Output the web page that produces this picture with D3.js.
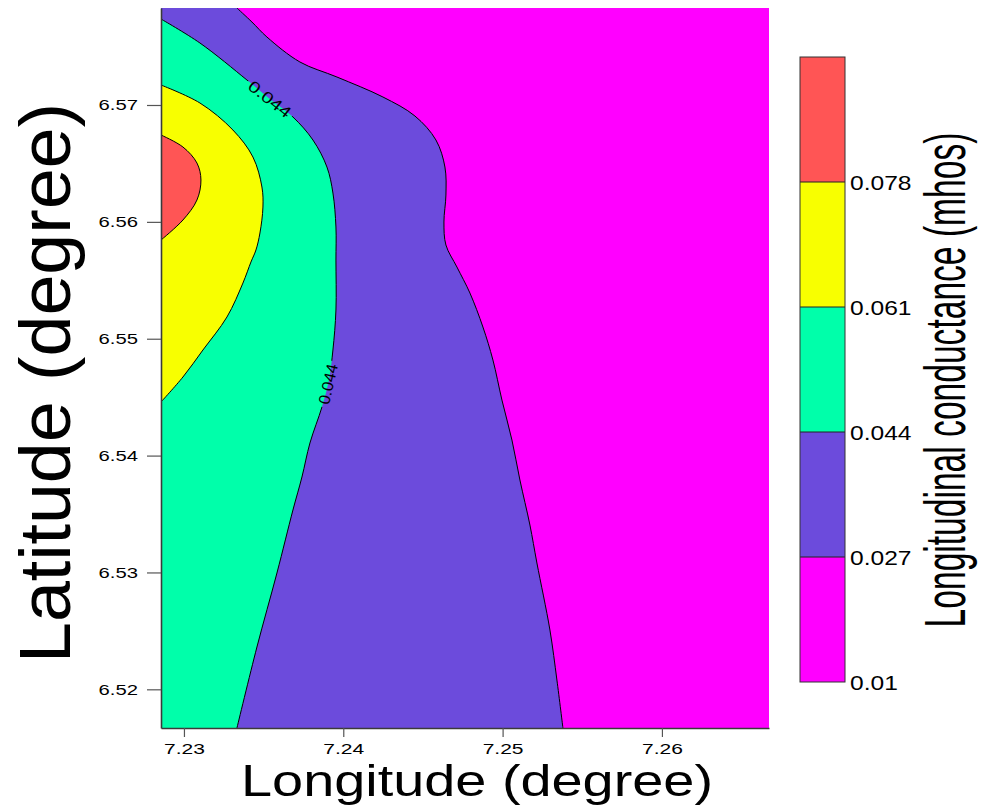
<!DOCTYPE html>
<html>
<head>
<meta charset="utf-8">
<script src="https://cdn.jsdelivr.net/npm/d3@7"></script>
<style>
  html, body { margin: 0; padding: 0; background: #ffffff; }
  svg { display: block; font-family: "Liberation Sans", Arial, Helvetica, sans-serif; }
</style>
</head>
<body>
<svg id="chart" width="982" height="807"></svg>
<script>
// ---------------- data ----------------
const lonDomain = [7.22856, 7.26672];
const latDomain = [6.51669, 6.57830];
const lonTicks = [7.23, 7.24, 7.25, 7.26];
const latTicks = [6.52, 6.53, 6.54, 6.55, 6.56, 6.57];

const levels = [0.01, 0.027, 0.044, 0.061, 0.078, 0.095];
const levelLabels = ["0.01", "0.027", "0.044", "0.061", "0.078"];
const bandColors = ["#FF00FF", "#6C4BDC", "#00FFAA", "#F8FF00", "#FF5555"];

// contour lines [lon, lat]
const contour027 = [
  [7.233326, 6.57830], [7.234268, 6.577101], [7.235209, 6.575817], [7.237280, 6.573678],
  [7.239602, 6.572395], [7.242489, 6.570683], [7.244498, 6.569057], [7.245816, 6.567004],
  [7.246380, 6.564693], [7.246443, 6.562297], [7.246318, 6.559987], [7.246443, 6.558019],
  [7.247133, 6.556136], [7.247949, 6.553911], [7.248765, 6.551002], [7.249393, 6.548178],
  [7.249958, 6.544755], [7.250585, 6.541333], [7.251087, 6.537910], [7.251715, 6.534059],
  [7.252154, 6.530807], [7.252970, 6.525074], [7.253409, 6.520796], [7.253786, 6.51669]
];
const contour044 = [
  [7.22856, 6.577358], [7.231004, 6.575304], [7.233954, 6.572138], [7.235397, 6.570512],
  [7.236841, 6.568972], [7.238096, 6.567004], [7.238975, 6.564693], [7.239351, 6.562468],
  [7.239540, 6.559559], [7.239540, 6.556735], [7.239540, 6.552457], [7.239351, 6.549034],
  [7.239100, 6.546467], [7.238661, 6.544156], [7.237908, 6.541076], [7.237406, 6.538167],
  [7.236841, 6.535343], [7.235837, 6.529952], [7.234581, 6.523620], [7.233326, 6.51669]
];
const contour061 = [
  [7.22856, 6.571710], [7.231004, 6.570170], [7.233075, 6.567859], [7.234330, 6.565549],
  [7.234895, 6.562982], [7.234958, 6.561270], [7.234770, 6.559046], [7.234519, 6.557591],
  [7.234205, 6.556564], [7.233703, 6.554767], [7.232699, 6.551858], [7.231192, 6.549034],
  [7.229937, 6.546724], [7.22856, 6.544584]
];
const contour078 = [
  [7.22856, 6.567432], [7.229937, 6.566405], [7.230816, 6.565035], [7.231067, 6.563581],
  [7.230816, 6.561870], [7.229937, 6.560158], [7.22856, 6.558447]
];
const contourLabels = [
  { text: "0.044", lon: 7.235397, lat: 6.570512, angle: 38, len: 50 },
  { text: "0.044", lon: 7.239037, lat: 6.546125, angle: -77, len: 41 }
];

// ---------------- layout ----------------
const svg = d3.select("#chart");
const plot = { left: 161, right: 769, top: 8, bottom: 728 };

const x = d3.scaleLinear().domain(lonDomain).range([plot.left, plot.right]);
const y = d3.scaleLinear().domain(latDomain).range([plot.bottom, plot.top]);

const defs = svg.append("defs");
defs.append("clipPath").attr("id", "plotClip")
  .append("rect")
  .attr("x", plot.left).attr("y", plot.top)
  .attr("width", plot.right - plot.left).attr("height", plot.bottom - plot.top);

const line = d3.line().x(d => x(d[0])).y(d => y(d[1])).curve(d3.curveCatmullRom.alpha(0.5));

const g = svg.append("g").attr("clip-path", "url(#plotClip)");

// lowest band background
g.append("rect")
  .attr("x", plot.left).attr("y", plot.top)
  .attr("width", plot.right - plot.left).attr("height", plot.bottom - plot.top)
  .attr("fill", bandColors[0]);

const L0 = lonDomain[0], B0 = latDomain[0], T0 = latDomain[1];
function corner(p) { return "L" + x(p[0]) + "," + y(p[1]); }

// >= 0.027
g.append("path")
  .attr("d", line(contour027) + corner([L0, B0]) + corner([L0, T0]) + "Z")
  .attr("fill", bandColors[1]);
// >= 0.044
g.append("path")
  .attr("d", line(contour044) + corner([L0, B0]) + "Z")
  .attr("fill", bandColors[2]);
// >= 0.061
g.append("path")
  .attr("d", line(contour061) + "Z")
  .attr("fill", bandColors[3]);
// >= 0.078
g.append("path")
  .attr("d", line(contour078) + "Z")
  .attr("fill", bandColors[4]);

// mask for label gaps
const mask = defs.append("mask").attr("id", "labelMask").attr("maskUnits", "userSpaceOnUse")
  .attr("x", 0).attr("y", 0).attr("width", 982).attr("height", 807);
mask.append("rect").attr("x", 0).attr("y", 0).attr("width", 982).attr("height", 807).attr("fill", "white");
contourLabels.forEach(l => {
  mask.append("rect")
    .attr("x", -l.len / 2 - 3).attr("y", -9).attr("width", l.len + 6).attr("height", 18)
    .attr("fill", "black")
    .attr("transform", `translate(${x(l.lon)},${y(l.lat)}) rotate(${l.angle})`);
});

const lines = g.append("g").attr("mask", "url(#labelMask)")
  .attr("fill", "none").attr("stroke", "#000").attr("stroke-width", 1);
[contour027, contour044, contour061, contour078].forEach(c => {
  lines.append("path").attr("d", line(c));
});

contourLabels.forEach(l => {
  g.append("text")
    .attr("transform", `translate(${x(l.lon)},${y(l.lat)}) rotate(${l.angle})`)
    .attr("text-anchor", "middle").attr("dy", "0.36em")
    .attr("font-size", 16)
    .attr("textLength", l.len).attr("lengthAdjust", "spacingAndGlyphs")
    .attr("fill", "#000")
    .text(l.text);
});

// ---------------- axes ----------------
function stretch(sel, factor) {
  sel.each(function () {
    const w = this.getComputedTextLength();
    this.setAttribute("textLength", w * factor);
    this.setAttribute("lengthAdjust", "spacingAndGlyphs");
  });
}

const xAxis = svg.append("g")
  .attr("transform", `translate(0,${plot.bottom})`)
  .call(d3.axisBottom(x).tickValues(lonTicks).tickFormat(d3.format(".2f")).tickSize(9).tickPadding(6).tickSizeOuter(0));
const yAxis = svg.append("g")
  .attr("transform", `translate(${plot.left},0)`)
  .call(d3.axisLeft(y).tickValues(latTicks).tickFormat(d3.format(".2f")).tickSize(14).tickPadding(9).tickSizeOuter(0));

[xAxis, yAxis].forEach(a => {
  a.select(".domain").attr("stroke", "#3a3a3a").attr("stroke-width", 1.6);
  a.selectAll(".tick line").attr("stroke", "#555").attr("stroke-width", 1.2);
  a.selectAll(".tick text").attr("font-size", 15).attr("fill", "#000")
    .attr("font-family", "Liberation Sans, Arial, sans-serif");
});
stretch(xAxis.selectAll(".tick text"), 1.4);
stretch(yAxis.selectAll(".tick text"), 1.35);

// axis titles
svg.append("text")
  .attr("x", 477).attr("y", 796)
  .attr("text-anchor", "middle").attr("font-size", 45)
  .attr("textLength", 472).attr("lengthAdjust", "spacingAndGlyphs")
  .text("Longitude (degree)");

svg.append("text")
  .attr("transform", "translate(70,383) rotate(-90)")
  .attr("text-anchor", "middle").attr("font-size", 72)
  .attr("textLength", 560).attr("lengthAdjust", "spacingAndGlyphs")
  .text("Latitude (degree)");

// ---------------- colour bar ----------------
const cb = { left: 800, width: 45, top: 57, bottom: 682 };
const cbY = d3.scaleLinear().domain([levels[0], levels[levels.length - 1]]).range([cb.bottom, cb.top]);
const cbG = svg.append("g");
bandColors.forEach((c, i) => {
  cbG.append("rect")
    .attr("x", cb.left).attr("y", cbY(levels[i + 1]))
    .attr("width", cb.width).attr("height", cbY(levels[i]) - cbY(levels[i + 1]))
    .attr("fill", c);
});
levels.slice(1, -1).forEach(v => {
  cbG.append("line")
    .attr("x1", cb.left).attr("x2", cb.left + cb.width)
    .attr("y1", cbY(v)).attr("y2", cbY(v))
    .attr("stroke", "#222").attr("stroke-width", 1);
});
cbG.append("rect")
  .attr("x", cb.left).attr("y", cb.top)
  .attr("width", cb.width).attr("height", cb.bottom - cb.top)
  .attr("fill", "none").attr("stroke", "#333").attr("stroke-width", 1);

const cbLabels = cbG.selectAll("text.cbl").data(levelLabels).join("text")
  .attr("class", "cbl")
  .attr("x", 850).attr("y", (d, i) => cbY(levels[i]))
  .attr("dy", "0.36em")
  .attr("font-size", 21).attr("fill", "#000")
  .text(d => d);
stretch(cbLabels, 1.17);

// colour-bar title: condensed via a scale transform so its box stays inside the page
const cbTitle = svg.append("text")
  .attr("text-anchor", "middle").attr("font-size", 57)
  .text("Longitudinal conductance (mhos)");
const natLen = cbTitle.node().getComputedTextLength();
cbTitle.attr("transform", `translate(965,380) rotate(-90) scale(${495 / natLen},1)`);
</script>
</body>
</html>
